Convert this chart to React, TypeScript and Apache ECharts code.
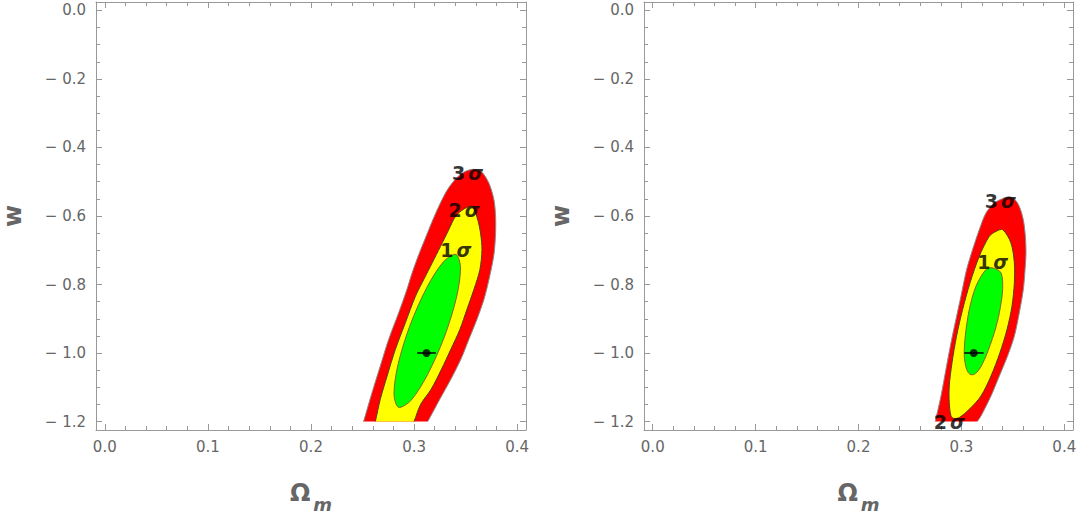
import React, { useEffect, useRef } from "react";
import * as echarts from "echarts";

// ---- axis ranges / ticks ----
const X_MIN = -0.0085;
const X_MAX = 0.4085;
const Y_MIN = -1.2245;
const Y_MAX = 0.0245;
const W_CLIP = -1.2; // plotted w range ends here (frame is padded beyond it)
const xMajorTicks = [0, 0.1, 0.2, 0.3, 0.4];
const xMinorTicks = [0.02, 0.04, 0.06, 0.08, 0.12, 0.14, 0.16, 0.18, 0.22, 0.24, 0.26, 0.28, 0.32, 0.34, 0.36, 0.38];
const yMajorTicks = [0, -0.2, -0.4, -0.6, -0.8, -1.0, -1.2];
const yMinorTicks = [-0.05, -0.1, -0.15, -0.25, -0.3, -0.35, -0.45, -0.5, -0.55, -0.65, -0.7, -0.75, -0.85, -0.9, -0.95, -1.05, -1.1, -1.15];

// ---- left panel contours [Omega_m, w] ----
const left3Sigma = [
  [0.2462, -1.25], [0.2510, -1.2], [0.2592, -1.1153], [0.2672, -1.0378], [0.2753, -0.9601], [0.2850, -0.8824],
  [0.2925, -0.8190], [0.2981, -0.7659], [0.3045, -0.7127], [0.3110, -0.6640], [0.3175, -0.6157], [0.3239, -0.5721],
  [0.3304, -0.5330], [0.3369, -0.5039], [0.3460, -0.4760], [0.3560, -0.4640], [0.3650, -0.4700], [0.3725, -0.5039],
  [0.3774, -0.5526], [0.3790, -0.6012], [0.3790, -0.6495], [0.3774, -0.7127], [0.3726, -0.7854], [0.3677, -0.8437],
  [0.3609, -0.9019], [0.3531, -0.9601], [0.3453, -1.0183], [0.3356, -1.0766], [0.3249, -1.1348], [0.3132, -1.2],
  [0.3039, -1.25],
];
const left2Sigma = [
  [0.2587, -1.25], [0.2624, -1.2], [0.2672, -1.1348], [0.2738, -1.0670], [0.2818, -0.9892], [0.2915, -0.9115],
  [0.3013, -0.8341], [0.3093, -0.7854], [0.3175, -0.7368], [0.3256, -0.6885], [0.3336, -0.6399], [0.3401, -0.6012],
  [0.3480, -0.5800], [0.3564, -0.5721], [0.3612, -0.6058], [0.3644, -0.6495], [0.3658, -0.6981], [0.3638, -0.7563],
  [0.3580, -0.8146], [0.3512, -0.8728], [0.3444, -0.9310], [0.3356, -0.9892], [0.3265, -1.0475], [0.3165, -1.1057],
  [0.3064, -1.1493], [0.2999, -1.2], [0.2922, -1.25],
];
const left1Sigma = [
  [0.3406, -0.7124], [0.3450, -0.7514], [0.3409, -0.8399], [0.3292, -0.9537], [0.3130, -1.0629], [0.2970, -1.1380],
  [0.2849, -1.1584], [0.2805, -1.1196], [0.2846, -1.0309], [0.2963, -0.9170], [0.3125, -0.8079], [0.3286, -0.7330],
];

// ---- right panel contours ----
const right3Sigma = [
  [0.2709, -1.25], [0.2746, -1.2], [0.2802, -1.1252], [0.2850, -1.0475], [0.2899, -0.9697], [0.2947, -0.9019],
  [0.2996, -0.8341], [0.3051, -0.7563], [0.3109, -0.6981], [0.3174, -0.6399], [0.3239, -0.5913], [0.3320, -0.5622],
  [0.3398, -0.5496], [0.3466, -0.5438], [0.3520, -0.5520], [0.3563, -0.5721], [0.3602, -0.6108], [0.3622, -0.6594],
  [0.3628, -0.7077], [0.3619, -0.7563], [0.3602, -0.8146], [0.3563, -0.8824], [0.3515, -0.9505], [0.3449, -1.0087],
  [0.3369, -1.0670], [0.3288, -1.1252], [0.3191, -1.1834], [0.3155, -1.2], [0.3070, -1.25],
];
const right2Sigma = [
  [0.3401, -0.6399], [0.3482, -0.6786], [0.3515, -0.7368], [0.3515, -0.7951], [0.3492, -0.8632], [0.3444, -0.9310],
  [0.3375, -0.9988], [0.3288, -1.0670], [0.3191, -1.1252], [0.3077, -1.1639], [0.2980, -1.1881], [0.2931, -1.1910],
  [0.2899, -1.1834], [0.2882, -1.1444], [0.2882, -1.0961], [0.2909, -1.0280], [0.2953, -0.9505], [0.3012, -0.8728],
  [0.3084, -0.7951], [0.3174, -0.7176], [0.3271, -0.6594], [0.3337, -0.6448],
];
const right1Sigma = [
  [0.3303, -0.7514], [0.3385, -0.7659], [0.3401, -0.8146], [0.3369, -0.8824], [0.3320, -0.9406], [0.3239, -1.0087],
  [0.3174, -1.0475], [0.3125, -1.0620], [0.3084, -1.0620], [0.3051, -1.0475], [0.3028, -1.0087], [0.3038, -0.9505],
  [0.3077, -0.8728], [0.3142, -0.8050], [0.3239, -0.7563],
];

// ---- best fit points with Omega_m error bars ----
const leftBestFit = [0.312, -1.0];
const leftErrBar = [0.303, 0.321];
const rightBestFit = [0.312, -1.0];
const rightErrBar = [0.3028, 0.3216];

// ---- sigma labels ----
const sigmaNamesLeft = ["3", "2", "1"];
const sigmaPosLeft = [[0.3519, -0.4748], [0.3485, -0.5817], [0.3405, -0.6981]];
const sigmaNamesRight = ["3", "1", "2"];
const sigmaPosRight = [[0.3378, -0.5555], [0.3304, -0.7339], [0.2883, -1.2009]];

const FONT = "DejaVu Sans";
const LINE_GRAY = "#999";
const TEXT_GRAY = "#666";

const fmtTick = (v: number) => {
  const r = Math.round(v * 10) / 10;
  return r < 0 ? "\u2212 " + Math.abs(r).toFixed(1) : r.toFixed(1);
};

function xAxesFor(grid: number) {
  const base = {
    gridIndex: grid, type: "value", min: X_MIN, max: X_MAX,
    splitLine: { show: false },
  };
  return [
    {
      ...base, position: "bottom",
      axisLine: { show: true, onZero: false, lineStyle: { color: LINE_GRAY, width: 1 } },
      axisTick: { show: true, inside: true, length: 6, customValues: xMajorTicks, lineStyle: { color: LINE_GRAY } },
      axisLabel: { show: true, customValues: xMajorTicks, formatter: fmtTick, color: TEXT_GRAY, fontSize: 15, fontFamily: FONT, margin: 9 },
      name: "{o|\u03A9}{m|m}", nameLocation: "middle", nameGap: 51,
      nameTextStyle: {
        rich: {
          o: { fontSize: 24, fontWeight: "bold", color: TEXT_GRAY, fontFamily: FONT, verticalAlign: "bottom" },
          m: { fontSize: 18, fontWeight: "bold", fontStyle: "italic", color: TEXT_GRAY, fontFamily: FONT, padding: [0, 0, -8, 3], verticalAlign: "bottom" },
        },
      },
    },
    {
      ...base, position: "bottom",
      axisLine: { show: false, onZero: false },
      axisTick: { show: true, inside: true, length: 4, customValues: xMinorTicks, lineStyle: { color: LINE_GRAY } },
      axisLabel: { show: false },
    },
    {
      ...base, position: "top",
      axisLine: { show: true, onZero: false, lineStyle: { color: LINE_GRAY, width: 1 } },
      axisTick: { show: true, inside: true, length: 6, customValues: xMajorTicks, lineStyle: { color: LINE_GRAY } },
      axisLabel: { show: false },
    },
    {
      ...base, position: "top",
      axisLine: { show: false, onZero: false },
      axisTick: { show: true, inside: true, length: 4, customValues: xMinorTicks, lineStyle: { color: LINE_GRAY } },
      axisLabel: { show: false },
    },
  ];
}

function yAxesFor(grid: number) {
  const base = {
    gridIndex: grid, type: "value", min: Y_MIN, max: Y_MAX,
    splitLine: { show: false },
  };
  return [
    {
      ...base, position: "left",
      axisLine: { show: true, onZero: false, lineStyle: { color: LINE_GRAY, width: 1 } },
      axisTick: { show: true, inside: true, length: 6, customValues: yMajorTicks, lineStyle: { color: LINE_GRAY } },
      axisLabel: { show: true, customValues: yMajorTicks, formatter: fmtTick, color: TEXT_GRAY, fontSize: 15, fontFamily: FONT, margin: 10 },
      name: "w", nameLocation: "middle", nameGap: 71, nameRotate: 90,
      nameTextStyle: { fontSize: 24, fontWeight: "bold", color: TEXT_GRAY, fontFamily: FONT },
    },
    {
      ...base, position: "left",
      axisLine: { show: false, onZero: false },
      axisTick: { show: true, inside: true, length: 4, customValues: yMinorTicks, lineStyle: { color: LINE_GRAY } },
      axisLabel: { show: false },
    },
    {
      ...base, position: "right",
      axisLine: { show: true, onZero: false, lineStyle: { color: LINE_GRAY, width: 1 } },
      axisTick: { show: true, inside: true, length: 6, customValues: yMajorTicks, lineStyle: { color: LINE_GRAY } },
      axisLabel: { show: false },
    },
    {
      ...base, position: "right",
      axisLine: { show: false, onZero: false },
      axisTick: { show: true, inside: true, length: 4, customValues: yMinorTicks, lineStyle: { color: LINE_GRAY } },
      axisLabel: { show: false },
    },
  ];
}

function contour(points: number[][], fill: string, stroke: string, grid: number, z: number) {
  return {
    type: "custom",
    xAxisIndex: grid * 4, yAxisIndex: grid * 4,
    data: [[points[0][0], Math.max(points[0][1], W_CLIP)]],
    silent: true, z, clip: false,
    renderItem: (_p: any, api: any) => {
      const tl = api.coord([X_MIN, Y_MAX]);
      const br = api.coord([X_MAX, W_CLIP]);
      return {
        type: "polygon",
        shape: { points: points.map((pt) => api.coord(pt)), smooth: 0.3 },
        style: { fill, stroke, lineWidth: 1 },
        clipPath: { type: "rect", shape: { x: tl[0], y: tl[1], width: br[0] - tl[0], height: br[1] - tl[1] } },
      };
    },
  };
}

function bestFitSeries(pt: number[], bar: number[], grid: number) {
  return [
    {
      type: "line", xAxisIndex: grid * 4, yAxisIndex: grid * 4, z: 10,
      data: [[bar[0], pt[1]], [bar[1], pt[1]]],
      symbol: "none", lineStyle: { color: "#000", width: 1.5 }, silent: true,
    },
    {
      type: "scatter", xAxisIndex: grid * 4, yAxisIndex: grid * 4, z: 11,
      data: [pt], symbol: "circle", symbolSize: 8, itemStyle: { color: "#000" }, silent: true,
    },
  ];
}

function sigmaLabels(names: string[], pos: number[][], grid: number) {
  return {
    type: "scatter", xAxisIndex: grid * 4, yAxisIndex: grid * 4, z: 20,
    data: pos.map((p, i) => ({ value: p, name: names[i] })),
    symbol: "rect", symbolSize: 1, itemStyle: { color: "rgba(0,0,0,0)" }, silent: true,
    label: {
      show: true, position: "inside",
      formatter: (p: any) => `{n|${p.name}}{s|\u03C3}`,
      rich: {
        n: { fontSize: 19, fontWeight: "bold", color: "#000", fontFamily: FONT },
        s: { fontSize: 19, fontWeight: "bold", fontStyle: "italic", color: "#000", fontFamily: FONT, padding: [0, 0, 0, 3] },
      },
    },
  };
}

export default function App() {
  const ref = useRef<HTMLDivElement>(null);
  useEffect(() => {
    if (!ref.current) return;
    const chart = echarts.init(ref.current, null, { renderer: "svg" });
    const option: any = {
      animation: false,
      backgroundColor: "#fff",
      grid: [
        { left: 96, top: 2, width: 430, height: 429, containLabel: false },
        { left: 644, top: 2, width: 429, height: 429, containLabel: false },
      ],
      xAxis: [...xAxesFor(0), ...xAxesFor(1)],
      yAxis: [...yAxesFor(0), ...yAxesFor(1)],
      series: [
        contour(left3Sigma, "#FF0000", "#8a8a8a", 0, 1),
        contour(left2Sigma, "#FFFF00", "#5a3a10", 0, 2),
        contour(left1Sigma, "#00FF00", "#7a6a20", 0, 3),
        ...bestFitSeries(leftBestFit, leftErrBar, 0),
        sigmaLabels(sigmaNamesLeft, sigmaPosLeft, 0),
        contour(right3Sigma, "#FF0000", "#8a8a8a", 1, 1),
        contour(right2Sigma, "#FFFF00", "#5a3a10", 1, 2),
        contour(right1Sigma, "#00FF00", "#7a6a20", 1, 3),
        ...bestFitSeries(rightBestFit, rightErrBar, 1),
        sigmaLabels(sigmaNamesRight, sigmaPosRight, 1),
      ],
    };
    chart.setOption(option);
    return () => chart.dispose();
  }, []);
  return (
    <div
      ref={ref}
      style={{ position: "absolute", left: 0, top: 0, width: 1083, height: 518, background: "#fff" }}
    />
  );
}
